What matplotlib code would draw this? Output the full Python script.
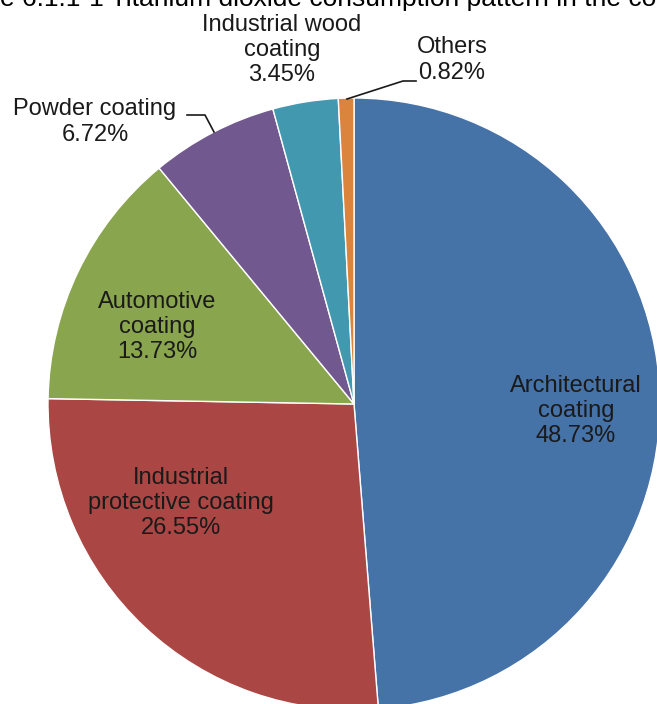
import matplotlib
matplotlib.use("Agg")
import matplotlib.pyplot as plt

# consumption share, clockwise from 12 o'clock
categories = ["Architectural\ncoating", "Industrial\nprotective coating", "Automotive\ncoating",
              "Powder coating", "Industrial wood\ncoating", "Others"]
shares = [48.73, 26.55, 13.73, 6.72, 3.45, 0.82]
colors = ["#4572A7", "#AA4643", "#89A54E", "#71588F", "#4198AF", "#DB843D"]

title = "Figure 6.1.1-1 Titanium dioxide consumption pattern in the coatings industry"

W, H = 657, 704
plt.rcParams['font.family'] = ['Liberation Sans', 'DejaVu Sans']

fig = plt.figure(figsize=(W / 100, H / 100), dpi=100)
ax = fig.add_axes([0, 0, 1, 1])

ax.pie(shares, colors=colors, startangle=90, counterclock=False,
       center=(354, H - 404), radius=306,
       wedgeprops=dict(edgecolor="white", linewidth=1))
ax.set_xlim(0, W)
ax.set_ylim(0, H)
ax.set_aspect("equal", adjustable="box")
ax.axis("off")

# label positions in pixels from the top-left corner
label_pos = [(576, 411), (181, 503), (157, 327), (95, 122), (282, 50), (452, 60)]
fs = 17
for name, val, (x, y) in zip(categories, shares, label_pos):
    ax.text(x, H - y, f"{name}\n{val:.2f}%", ha="center", va="center",
            fontsize=fs, color="#1a1a1a", linespacing=1.2)

# leader lines for the small slices
ax.plot([187, 205, 214], [H - 115, H - 115, H - 132], color="#1a1a1a", lw=1.2)
ax.plot([347, 403, 416], [H - 99, H - 81, H - 81], color="#1a1a1a", lw=1.2)

# title, cut off at the top of the image (as in the source)
fig.text(-60 / W, 1 - 6 / H, title, ha="left", va="baseline", fontsize=19, color="black")

fig.savefig("out.png", dpi=100)
